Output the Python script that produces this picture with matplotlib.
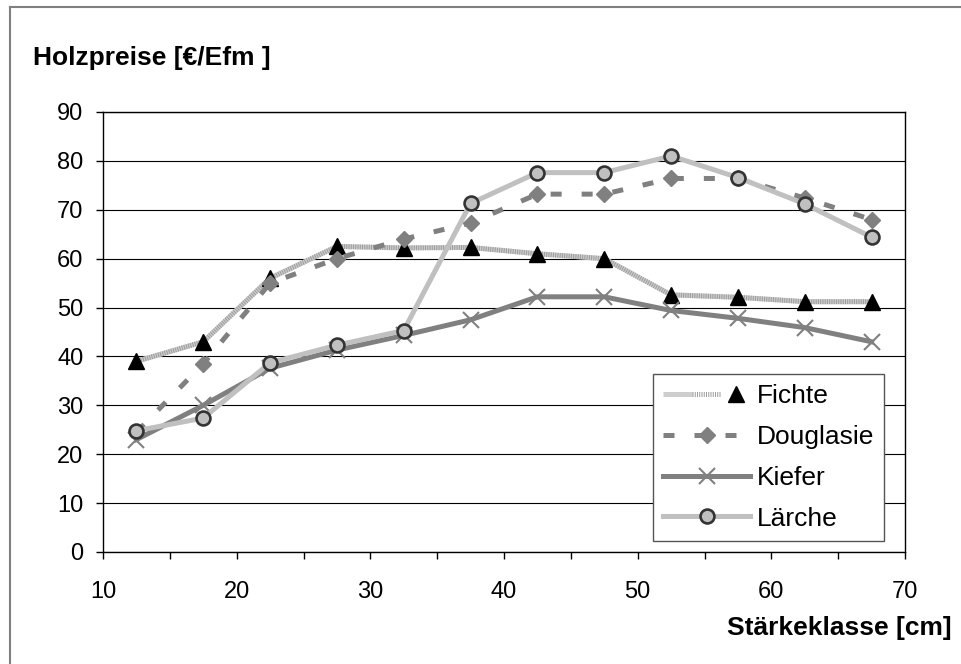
import numpy as np
import matplotlib
matplotlib.use("Agg")
from matplotlib import pyplot as plt
from matplotlib.ticker import MultipleLocator
from matplotlib.legend_handler import HandlerTuple
from matplotlib.lines import Line2D

plt.rcParams['font.family'] = ['Liberation Sans', 'DejaVu Sans']

# Stärkeklassen (Klassenmitte in cm) und Preise in €/Efm
staerke = [12.5, 17.5, 22.5, 27.5, 32.5, 37.5, 42.5, 47.5, 52.5, 57.5, 62.5, 67.5]
fichte = [39, 43, 56, 62.5, 62.2, 62.3, 61, 60, 52.6, 52.1, 51.2, 51.2]
douglasie = [24.5, 38.5, 55, 60, 64, 67.3, 73.2, 73.2, 76.4, 76.4, 72.4, 68]
kiefer = [23, 30, 37.6, 41.3, 44.3, 47.5, 52.2, 52.2, 49.4, 47.8, 45.9, 43]
laerche = [24.8, 27.4, 38.7, 42.3, 45.3, 71.3, 77.6, 77.6, 81, 76.6, 71.2, 64.4]

W, H = 961, 664
fig = plt.figure(figsize=(W / 100, H / 100), dpi=100)
ax = fig.add_axes([103 / W, 1 - 552 / H, (905 - 103) / W, (552 - 112) / H])

# Fichte: hell gestreifte Linie + schwarze Dreiecke
f_base, = ax.plot(staerke, fichte, color='#cdcdcd', lw=3.6, solid_capstyle='butt')
f_str, = ax.plot(staerke, fichte, color='#9c9c9c', lw=3.6, dashes=(0.2, 0.25))
f_mk, = ax.plot(staerke, fichte, ls='none', marker='^', ms=11.5, color='black')

d_ln, = ax.plot(staerke, douglasie, color='#808080', lw=3.6, dashes=(2.2, 4.0),
                marker='D', ms=8, mfc='#808080', mec='#808080')
k_ln, = ax.plot(staerke, kiefer, color='#808080', lw=3.6,
                marker='x', ms=12, mew=1.5, mec='#808080')
l_ln, = ax.plot(staerke, laerche, color='#c0c0c0', lw=3.6,
                marker='o', ms=10, mfc='#c0c0c0', mec='#333333', mew=1.9)

ax.set_xlim(10, 70)
ax.set_ylim(0, 90)
ax.xaxis.set_major_locator(MultipleLocator(10))
ax.xaxis.set_minor_locator(MultipleLocator(5))
ax.yaxis.set_major_locator(MultipleLocator(10))
ax.tick_params(axis='both', which='both', direction='out', length=5, width=1,
               color='black', labelsize=17)
ax.tick_params(axis='y', pad=9)
ax.tick_params(axis='x', pad=16)
ax.tick_params(top=False, right=False)
ax.grid(axis='y', color='black', lw=0.8)
ax.set_axisbelow(True)
for s in ax.spines.values():
    s.set_color('black')
    s.set_linewidth(1)

leg = fig.legend([(f_base, f_str, f_mk), d_ln, k_ln, l_ln],
                 ['Fichte', 'Douglasie', 'Kiefer', 'Lärche'],
                 handler_map={tuple: HandlerTuple(ndivide=None, pad=0)},
                 loc='upper left', bbox_to_anchor=(653 / W, 1 - 374 / H),
                 borderaxespad=0, fontsize=19, handlelength=3.3,
                 handletextpad=0.25, labelspacing=0.64, borderpad=0.38,
                 fancybox=False, framealpha=1)
leg.get_frame().set_edgecolor('#555555')
leg.get_frame().set_linewidth(1)

fig.text(33 / W, 1 - 58 / H, 'Holzpreise [€/Efm ]', fontsize=19,
         fontweight='bold', ha='left', va='center')
fig.text(952 / W, 1 - 628 / H, 'Stärkeklasse [cm]', fontsize=19,
         fontweight='bold', ha='right', va='center')

# Rahmen links und oben
fig.add_artist(Line2D([10 / W, 10 / W], [0, 1 - 7 / H], color='#808080', lw=1.5))
fig.add_artist(Line2D([10 / W, 1], [1 - 7 / H, 1 - 7 / H], color='#808080', lw=1.5))

fig.savefig('out.png', dpi=100)
